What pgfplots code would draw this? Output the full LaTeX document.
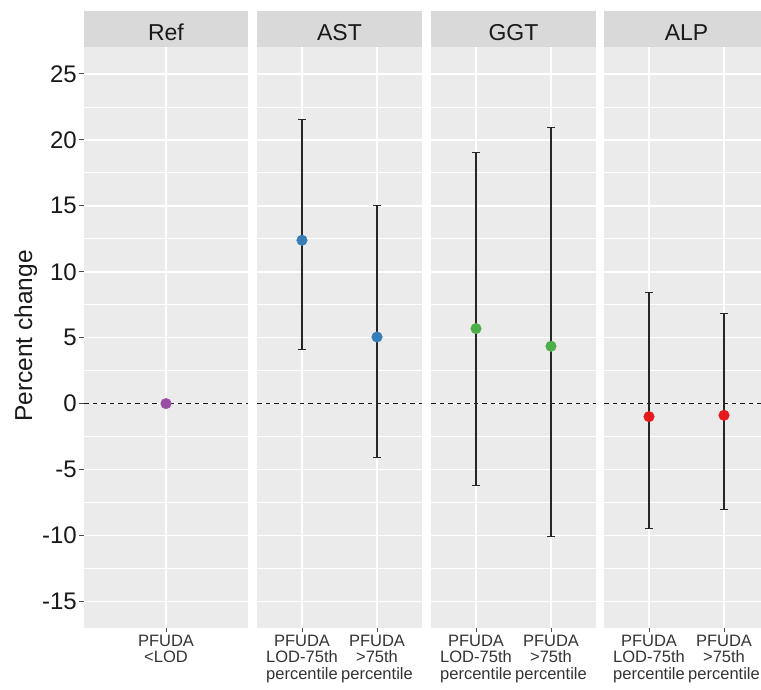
\documentclass[border=0pt]{standalone}
\usepackage{fontspec}
\setmainfont{Liberation Sans}
\usepackage{pgfplots}
\usepackage{pgfplotstable}
\pgfplotsset{compat=1.18}
\definecolor{panelbg}{HTML}{EBEBEB}
\definecolor{stripbg}{HTML}{D9D9D9}
\definecolor{cRef}{HTML}{984EA3}
\definecolor{cAST}{HTML}{377EB8}
\definecolor{cGGT}{HTML}{4DAF4A}
\definecolor{cALP}{HTML}{E41A1C}
\definecolor{xlab}{HTML}{333333}

\pgfplotstableread{
x y lo hi
1 0 0 0
}\refdata
\pgfplotstableread{
x y lo hi
1 12.39 4.07 21.52
2 5.05 -4.07 15.05
}\astdata
\pgfplotstableread{
x y lo hi
1 5.69 -6.20 19.04
2 4.35 -10.09 20.96
}\ggtdata
\pgfplotstableread{
x y lo hi
1 -0.99 -9.46 8.42
2 -0.89 -8.07 6.80
}\alpdata

\pgfplotsset{
  facet/.style={
    scale only axis, height=581pt, ymin=-17, ymax=27.07, xmin=0.4,
    anchor=north west, clip=false,
    axis background/.style={fill=panelbg},
    axis line style={draw=none},
    ytick={-15,-10,...,25}, minor ytick={-12.5,-7.5,...,22.5},
    xtick={1,2},
    grid=both,
    major grid style={white, line width=1.5pt},
    minor grid style={white, line width=0.75pt},
    tick align=outside, xtick pos=bottom, ytick pos=left,
    major tick length=4.5pt, minor tick length=0pt,
    tick style={draw=black!70, line width=1pt},
    xticklabel style={font=\fontsize{16.5}{16.7}\selectfont, text=xlab, align=center, inner sep=0pt, yshift=-2.5pt},
    yticklabel style={font=\fontsize{24}{24}\selectfont, text=black!90, inner sep=0pt, xshift=-2.5pt},
  },
  ebars/.style={only marks, mark=none,
    error bars/.cd, y dir=both, y explicit,
    error bar style={line width=1.3pt, black!85},
    error mark options={rotate=90, mark size=3.8pt, line width=1pt, black!85}},
  pts/.style={only marks, mark=*, mark size=5.3pt, mark options={draw=#1, fill=#1}},
  zeroline/.style={black!90, line width=1.3pt, dash pattern=on 4.5pt off 4pt},
}
\newcommand{\strip}[2]{%
  \fill[stripbg] (rel axis cs:0,1) rectangle ([yshift=36.2pt]rel axis cs:1,1);
  \node[anchor=base, font=\fontsize{23}{23}\selectfont, text=black!90] at ([yshift=6.7pt]rel axis cs:#2,1) {#1};
}

\begin{document}
\begin{tikzpicture}
\path[use as bounding box] (0,0) rectangle (761pt,-689pt);

% Ref
\begin{axis}[facet, at={(84pt,-46.7pt)}, width=164pt, xmax=1.6,
  xtick={1}, xticklabels={{PFUDA\\<LOD}},
  yticklabels={-15,-10,-5,0,5,10,15,20,25}]
  \addplot[zeroline] coordinates {(0.4,0) (1.6,0)};
  \addplot[pts=cRef] table[x=x, y=y] {\refdata};
  \strip{Ref}{0.5}
\end{axis}

% AST
\begin{axis}[facet, at={(257pt,-46.7pt)}, width=165pt, xmax=2.6,
  xticklabels={{PFUDA\\LOD-75th\\percentile},{PFUDA\\>75th\\percentile}},
  yticklabels={}, ytick style={draw=none}]
  \addplot[zeroline] coordinates {(0.4,0) (2.6,0)};
  \addplot[ebars] table[x=x, y=y, y error plus expr=\thisrow{hi}-\thisrow{y}, y error minus expr=\thisrow{y}-\thisrow{lo}] {\astdata};
  \addplot[pts=cAST] table[x=x, y=y] {\astdata};
  \strip{AST}{0.5}
\end{axis}

% GGT
\begin{axis}[facet, at={(431pt,-46.7pt)}, width=165pt, xmax=2.6,
  xticklabels={{PFUDA\\LOD-75th\\percentile},{PFUDA\\>75th\\percentile}},
  yticklabels={}, ytick style={draw=none}]
  \addplot[zeroline] coordinates {(0.4,0) (2.6,0)};
  \addplot[ebars] table[x=x, y=y, y error plus expr=\thisrow{hi}-\thisrow{y}, y error minus expr=\thisrow{y}-\thisrow{lo}] {\ggtdata};
  \addplot[pts=cGGT] table[x=x, y=y] {\ggtdata};
  \strip{GGT}{0.5}
\end{axis}

% ALP
\begin{axis}[facet, at={(604pt,-46.7pt)}, width=157pt, xmax=2.4933,
  xticklabels={{PFUDA\\LOD-75th\\percentile},{PFUDA\\>75th\\percentile}},
  yticklabels={}, ytick style={draw=none}]
  \addplot[zeroline] coordinates {(0.4,0) (2.4933,0)};
  \addplot[ebars] table[x=x, y=y, y error plus expr=\thisrow{hi}-\thisrow{y}, y error minus expr=\thisrow{y}-\thisrow{lo}] {\alpdata};
  \addplot[pts=cALP] table[x=x, y=y] {\alpdata};
  \strip{ALP}{0.5255}
\end{axis}

\node[rotate=90, anchor=base, font=\fontsize{24.5}{24.5}\selectfont, text=black!90] at (32pt,-336pt) {Percent change};
\end{tikzpicture}
\end{document}
